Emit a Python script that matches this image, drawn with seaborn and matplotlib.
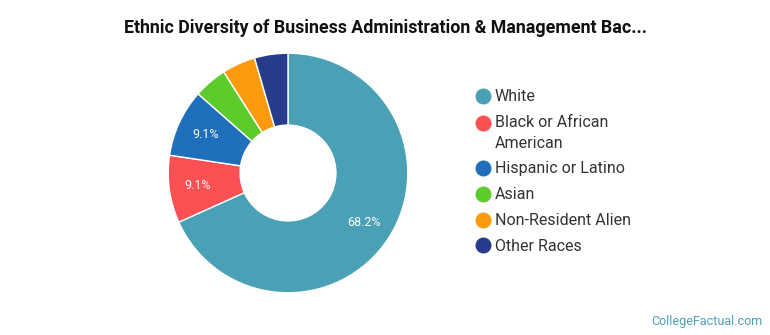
import matplotlib
matplotlib.use("Agg")
import numpy as np
import matplotlib.pyplot as plt
from matplotlib.lines import Line2D
from matplotlib.legend_handler import HandlerLine2D
import seaborn as sns

categories = ["White", "Black or African\nAmerican", "Hispanic or Latino",
              "Asian", "Non-Resident Alien", "Other Races"]
shares = [68.2, 9.1, 9.1, 4.5, 4.5, 4.5]
shown_labels = ["68.2%", "9.1%", "9.1%", "", "", ""]
colors = ["#4aa0b5", "#fc5054", "#1f6fba", "#5ccb2b", "#fb9a0c", "#283c8c"]

sns.set_theme(style="white")
plt.rcParams['font.family'] = ['Roboto', 'DejaVu Sans']

fig = plt.figure(figsize=(7.7, 3.35), dpi=100)
W, H = 770, 335
cx, cy, R = 288, 173, 121
ax = fig.add_axes([(cx - R) / W, (H - cy - R) / H, 2 * R / W, 2 * R / H])

label_iter = iter(shown_labels)
wedges, texts, autotexts = ax.pie(
    shares, colors=colors, startangle=90, counterclock=False,
    radius=1.0, autopct=lambda p: next(label_iter), pctdistance=0.76,
    wedgeprops=dict(width=0.6, edgecolor="white", linewidth=1.0),
    textprops=dict(color="white", fontsize=9))
ax.set_xlim(-1.01, 1.01)
ax.set_ylim(-1.01, 1.01)
ax.set_aspect("equal")
ax.axis("off")

fig.text(0.5, 1 - 28 / H, "Ethnic Diversity of Business Administration & Management Bac...",
         ha="center", va="center", fontsize=12.8, fontweight="bold", color="#111111")


class ShiftedHandler(HandlerLine2D):
    def __init__(self, dy, **kw):
        super().__init__(**kw)
        self.dy = dy

    def create_artists(self, *args, **kwargs):
        artists = super().create_artists(*args, **kwargs)
        for a in artists:
            if hasattr(a, "set_ydata"):
                a.set_ydata(np.asarray(a.get_ydata(), dtype=float) + self.dy)
        return artists


handles = [Line2D([0], [0], marker="o", linestyle="", markersize=10.5,
                  markerfacecolor=c, markeredgecolor=c) for c in colors]
handler_map = {h: ShiftedHandler(7.5) for h, lab in zip(handles, categories) if "\n" in lab}
leg = fig.legend(handles, categories, loc="upper left",
                 bbox_to_anchor=(459 / W, 1 - 75 / H), frameon=False,
                 fontsize=11.5, labelcolor="#333333", handletextpad=0.15,
                 labelspacing=0.68, handlelength=1.2, handler_map=handler_map)
for t in leg.get_texts():
    t.set_linespacing(1.45)

fig.text(1 - 7 / W, 1 - 321 / H, "CollegeFactual.com", ha="right", va="center",
         fontsize=9, color="#4aa0b5")

fig.savefig("out.png", dpi=100)
